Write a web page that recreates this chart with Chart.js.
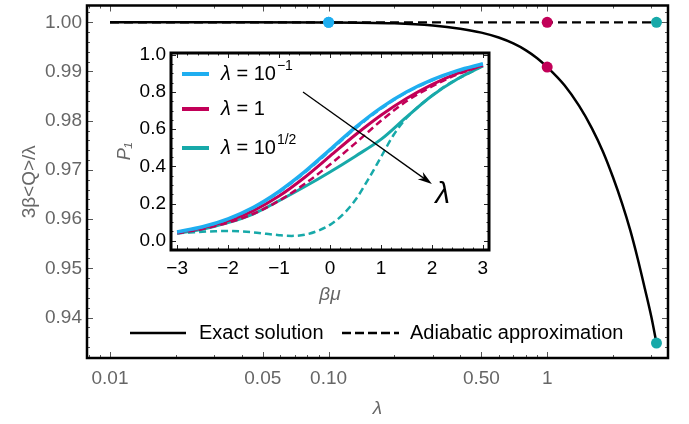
<!DOCTYPE html>
<html>
<head>
<meta charset="utf-8">
<script src="https://cdn.jsdelivr.net/npm/chart.js@4/dist/chart.umd.min.js"></script>
<style>
  html, body { margin: 0; padding: 0; background: #fff; }
  #wrap { position: relative; width: 689px; height: 424px; overflow: hidden; }
  #mainChart { position: absolute; left: 0; top: 0; }
  #insetChart { position: absolute; left: 100px; top: 40px; }
</style>
</head>
<body>
<div id="wrap">
  <canvas id="mainChart" width="689" height="424"></canvas>
  <canvas id="insetChart" width="400" height="270"></canvas>
</div>
<script>
// ---- main plot: 3β<Q>/λ against λ ----
const lambdaExact = [0.01, 0.03, 0.1, 0.2, 0.3, 0.4, 0.5, 0.6, 0.7, 0.8, 0.9, 1,
  1.2, 1.4, 1.6, 1.8, 2, 2.2, 2.4, 2.6, 2.8, 3, 3.162];
const qExact = [1.0, 1.0, 0.99998, 0.9998, 0.99935, 0.9987, 0.9979, 0.9969, 0.9957, 0.9943, 0.9927, 0.9909,
  0.9872, 0.9830, 0.9785, 0.9737, 0.9685, 0.9632, 0.9577, 0.9518, 0.9458, 0.9400, 0.9348];
const lambdaAdiabatic = [0.01, 3.162];
const qAdiabatic = [1.0, 1.0];

// marked λ values (same colours as the inset)
const markerLambda = [0.1, 1, 3.162];
const markerExact = [1.0, 0.9909, 0.9348];
const markerAdiabatic = [1.0, 1.0, 1.0];
const markerColors = ['#1FAEF0', '#C20058', '#17A9A9'];

const xMajorTicks = [0.01, 0.05, 0.1, 0.5, 1];
const xTickLabels = ['0.01', '0.05', '0.10', '0.50', '1'];
const yMajorTicks = [0.94, 0.95, 0.96, 0.97, 0.98, 0.99, 1.0];
const yTickLabels = ['0.94', '0.95', '0.96', '0.97', '0.98', '0.99', '1.00'];
const mainLegendLabels = ['Exact solution', 'Adiabatic approximation'];

// ---- inset: P1 against βμ ----
const betaMu = [-3, -2.5, -2, -1.5, -1, -0.5, 0, 0.5, 1, 1.5, 2, 2.5, 3];
const p1Blue = [0.047, 0.075, 0.118, 0.18, 0.265, 0.37, 0.49, 0.61, 0.715, 0.80, 0.865, 0.915, 0.952];
const p1BlueAdiabatic = [0.046, 0.074, 0.116, 0.177, 0.261, 0.365, 0.484, 0.604, 0.71, 0.797, 0.862, 0.913, 0.951];
const p1Magenta = [0.045, 0.07, 0.108, 0.162, 0.24, 0.34, 0.455, 0.57, 0.675, 0.765, 0.84, 0.90, 0.945];
const p1MagentaAdiabatic = [0.04, 0.063, 0.097, 0.145, 0.215, 0.305, 0.41, 0.525, 0.645, 0.75, 0.83, 0.895, 0.942];
const p1Teal = [0.04, 0.062, 0.097, 0.145, 0.215, 0.29, 0.37, 0.455, 0.545, 0.665, 0.78, 0.87, 0.94];
const betaMuFine = [-3, -2.75, -2.5, -2.25, -2, -1.75, -1.5, -1.25, -1, -0.75, -0.5, -0.25,
  0, 0.25, 0.5, 0.75, 1, 1.25, 1.5, 1.75, 2, 2.25, 2.5, 2.75, 3];
const p1TealAdiabatic = [0.040, 0.044, 0.048, 0.051, 0.052, 0.050, 0.045, 0.037, 0.030, 0.026, 0.032, 0.052,
  0.085, 0.14, 0.22, 0.33, 0.45, 0.57, 0.66, 0.725, 0.78, 0.83, 0.87, 0.905, 0.94];

const insetXTicks = [-3, -2, -1, 0, 1, 2, 3];
const insetXLabels = ['\u22123', '\u22122', '\u22121', '0', '1', '2', '3'];
const insetYTicks = [0, 0.2, 0.4, 0.6, 0.8, 1.0];
const insetYLabels = ['0.0', '0.2', '0.4', '0.6', '0.8', '1.0'];
const insetLegendBase = ['10', '1', '10'];
const insetLegendSup = ['\u22121', '', '1/2'];

const FONT = '"Liberation Sans", Arial, sans-serif';
const GRAY = '#666666';

function pairs(xs, ys) {
  return xs.map((x, i) => ({ x: x, y: ys[i] }));
}

function isNear(v, list) {
  return list.findIndex(m => Math.abs(v - m) < 1e-9 * Math.max(1, Math.abs(m)) + 1e-9);
}

// linear ticks with minor subdivisions
function linearTicks(min, max, step, majors) {
  const out = [];
  const start = Math.ceil(min / step - 1e-9);
  const end = Math.floor(max / step + 1e-9);
  for (let k = start; k <= end; k++) {
    const v = Math.round(k * step * 1e6) / 1e6;
    out.push({ value: v, isMajor: isNear(v, majors) >= 0 });
  }
  return out;
}

// log ticks at 1..9 times each decade
function logTicks(min, max, majors) {
  const out = [];
  [0.001, 0.01, 0.1, 1, 10].forEach(dec => {
    for (let m = 1; m <= 9; m++) {
      const v = Math.round(m * dec * 1e6) / 1e6;
      if (v >= min && v <= max) out.push({ value: v, isMajor: isNear(v, majors) >= 0 });
    }
  });
  return out;
}

// keep the plot area exactly where the layout padding puts it
function noEdgePadding(s) {
  s.paddingTop = 0; s.paddingBottom = 0;
  s.paddingLeft = 0; s.paddingRight = 0;
}

// frame with inward ticks on all four sides
const frameTicks = {
  id: 'frameTicks',
  beforeDraw(chart, args, opts) {
    if (!opts.fill) return;
    const a = chart.chartArea;
    chart.ctx.save();
    chart.ctx.fillStyle = opts.fill;
    chart.ctx.fillRect(a.left, a.top, a.width, a.height);
    chart.ctx.restore();
  },
  afterDatasetsDraw(chart, args, opts) {
    const ctx = chart.ctx;
    const a = chart.chartArea;
    const xs = chart.scales.x, ys = chart.scales.y;
    ctx.save();
    ctx.strokeStyle = opts.tickColor;
    ctx.lineWidth = 1;
    ctx.beginPath();
    xs.ticks.forEach(t => {
      const px = Math.round(xs.getPixelForValue(t.value)) + 0.5;
      const len = t.isMajor ? opts.majorLen : opts.minorLen;
      ctx.moveTo(px, a.bottom); ctx.lineTo(px, a.bottom - len);
      ctx.moveTo(px, a.top); ctx.lineTo(px, a.top + len);
    });
    ys.ticks.forEach(t => {
      const py = Math.round(ys.getPixelForValue(t.value)) + 0.5;
      const len = t.isMajor ? opts.majorLen : opts.minorLen;
      ctx.moveTo(a.left, py); ctx.lineTo(a.left + len, py);
      ctx.moveTo(a.right, py); ctx.lineTo(a.right - len, py);
    });
    ctx.stroke();
    ctx.strokeStyle = '#000';
    ctx.lineWidth = opts.frameWidth;
    ctx.strokeRect(a.left, a.top, a.width, a.height);
    ctx.restore();
  }
};

// legend inside the main frame
const mainLegend = {
  id: 'mainLegend',
  afterDraw(chart) {
    const ctx = chart.ctx;
    const y = 333;
    ctx.save();
    ctx.strokeStyle = '#000';
    ctx.lineWidth = 2.5;
    ctx.beginPath(); ctx.moveTo(130, y); ctx.lineTo(186, y); ctx.stroke();
    ctx.setLineDash([9, 4]);
    ctx.beginPath(); ctx.moveTo(342, y); ctx.lineTo(399, y); ctx.stroke();
    ctx.setLineDash([]);
    ctx.fillStyle = '#000';
    ctx.font = '20px ' + FONT;
    ctx.textBaseline = 'middle';
    ctx.fillText(mainLegendLabels[0], 199, y);
    ctx.fillText(mainLegendLabels[1], 410, y);
    ctx.restore();
  }
};

// legend and λ arrow inside the inset
const insetDecor = {
  id: 'insetDecor',
  afterDraw(chart) {
    const ctx = chart.ctx;
    const a = chart.chartArea;
    const xs = chart.scales.x, ys = chart.scales.y;
    const colors = markerColors;
    const rows = [a.top + 21, a.top + 56, a.top + 95];
    ctx.save();
    ctx.textBaseline = 'middle';
    rows.forEach((y, i) => {
      ctx.strokeStyle = colors[i];
      ctx.lineWidth = 4;
      ctx.beginPath(); ctx.moveTo(a.left + 11, y); ctx.lineTo(a.left + 38, y); ctx.stroke();
      let x = a.left + 50;
      ctx.fillStyle = '#000';
      ctx.font = 'italic 20px ' + FONT;
      ctx.fillText('\u03bb', x, y);
      x += ctx.measureText('\u03bb').width;
      ctx.font = '20px ' + FONT;
      const txt = ' = ' + insetLegendBase[i];
      ctx.fillText(txt, x, y);
      x += ctx.measureText(txt).width;
      if (insetLegendSup[i]) {
        ctx.font = '14px ' + FONT;
        ctx.fillText(insetLegendSup[i], x + 1, y - 8);
      }
    });
    // arrow showing increasing λ
    const x0 = xs.getPixelForValue(-0.53), y0 = ys.getPixelForValue(0.80);
    const x1 = xs.getPixelForValue(2.0), y1 = ys.getPixelForValue(0.305);
    const ang = Math.atan2(y1 - y0, x1 - x0);
    ctx.strokeStyle = '#000';
    ctx.fillStyle = '#000';
    ctx.lineWidth = 1.3;
    ctx.beginPath(); ctx.moveTo(x0, y0); ctx.lineTo(x1 - 8 * Math.cos(ang), y1 - 8 * Math.sin(ang)); ctx.stroke();
    ctx.beginPath();
    ctx.moveTo(x1, y1);
    ctx.lineTo(x1 - 15 * Math.cos(ang - 0.3), y1 - 15 * Math.sin(ang - 0.3));
    ctx.lineTo(x1 - 10 * Math.cos(ang), y1 - 10 * Math.sin(ang));
    ctx.lineTo(x1 - 15 * Math.cos(ang + 0.3), y1 - 15 * Math.sin(ang + 0.3));
    ctx.closePath();
    ctx.fill();
    ctx.font = 'italic 30px ' + FONT;
    ctx.textAlign = 'center';
    ctx.fillText('\u03bb', xs.getPixelForValue(2.21), ys.getPixelForValue(0.25));
    ctx.restore();
  }
};

function lineSet(data, color, width, dash) {
  return {
    data: data,
    borderColor: color,
    borderWidth: width,
    borderDash: dash || [],
    pointRadius: 0,
    fill: false,
    cubicInterpolationMode: 'monotone'
  };
}

function dotSet(data, colors) {
  return {
    type: 'scatter',
    data: data,
    pointRadius: 5.5,
    pointBackgroundColor: colors,
    pointBorderWidth: 0,
    showLine: false
  };
}

const X_MIN = 0.00785, X_MAX = 3.57;
const Y_MIN = 0.93177, Y_MAX = 1.00341;

new Chart(document.getElementById('mainChart'), {
  type: 'line',
  data: {
    datasets: [
      dotSet(pairs(markerLambda, markerExact), markerColors),
      dotSet(pairs(markerLambda, markerAdiabatic), markerColors),
      lineSet(pairs(lambdaExact, qExact), '#000', 2.5),
      lineSet(pairs(lambdaAdiabatic, qAdiabatic), '#000', 2.2, [9, 5])
    ]
  },
  options: {
    responsive: false,
    animation: false,
    events: [],
    layout: { padding: { left: 0, right: 21, top: 1, bottom: 0 } },
    plugins: {
      legend: { display: false },
      tooltip: { enabled: false },
      frameTicks: { tickColor: '#555', majorLen: 6, minorLen: 3, frameWidth: 2.5 }
    },
    scales: {
      x: {
        type: 'logarithmic',
        min: X_MIN, max: X_MAX,
        grid: { display: false, drawTicks: false },
        border: { display: false },
        afterBuildTicks: s => { s.ticks = logTicks(X_MIN, X_MAX, xMajorTicks); },
        afterFit: s => { s.height = 66; noEdgePadding(s); },
        ticks: {
          autoSkip: false, maxRotation: 0, padding: 9,
          color: GRAY, font: { family: FONT, size: 19 },
          callback: v => { const i = isNear(v, xMajorTicks); return i >= 0 ? xTickLabels[i] : ''; }
        },
        title: {
          display: true, text: '\u03bb', color: GRAY,
          font: { family: FONT, size: 19, style: 'italic' },
          padding: { top: 0, bottom: 4 }
        }
      },
      y: {
        type: 'linear',
        min: Y_MIN, max: Y_MAX,
        grid: { display: false, drawTicks: false },
        border: { display: false },
        afterBuildTicks: s => { s.ticks = linearTicks(Y_MIN, Y_MAX, 0.002, yMajorTicks); },
        afterFit: s => { s.width = 87; noEdgePadding(s); },
        ticks: {
          autoSkip: false, padding: 5,
          color: GRAY, font: { family: FONT, size: 19 },
          callback: v => { const i = isNear(v, yMajorTicks); return i >= 0 ? yTickLabels[i] : ''; }
        },
        title: {
          display: true, text: '3\u03b2<Q>/\u03bb', color: GRAY,
          font: { family: FONT, size: 19 },
          padding: { top: 18, bottom: 0 }
        }
      }
    }
  },
  plugins: [frameTicks, mainLegend]
});

new Chart(document.getElementById('insetChart'), {
  type: 'line',
  data: {
    datasets: [
      lineSet(pairs(betaMu, p1BlueAdiabatic), markerColors[0], 2.5, [7, 4]),
      lineSet(pairs(betaMu, p1Blue), markerColors[0], 3.5),
      lineSet(pairs(betaMu, p1MagentaAdiabatic), markerColors[1], 2.5, [7, 4]),
      lineSet(pairs(betaMu, p1Magenta), markerColors[1], 3),
      lineSet(pairs(betaMuFine, p1TealAdiabatic), markerColors[2], 2.5, [7, 4]),
      lineSet(pairs(betaMu, p1Teal), markerColors[2], 3)
    ]
  },
  options: {
    responsive: false,
    animation: false,
    events: [],
    layout: { padding: { left: 0, right: 11, top: 13, bottom: 0 } },
    plugins: {
      legend: { display: false },
      tooltip: { enabled: false },
      frameTicks: { fill: '#fff', tickColor: '#222', majorLen: 5, minorLen: 2.5, frameWidth: 3 }
    },
    scales: {
      x: {
        type: 'linear',
        min: -3.12, max: 3.12,
        grid: { display: false, drawTicks: false },
        border: { display: false },
        afterBuildTicks: s => { s.ticks = linearTicks(-3.12, 3.12, 0.2, insetXTicks); },
        afterFit: s => { s.height = 60; noEdgePadding(s); },
        ticks: {
          autoSkip: false, maxRotation: 0, padding: 7,
          color: '#000', font: { family: FONT, size: 19 },
          callback: v => { const i = isNear(v, insetXTicks); return i >= 0 ? insetXLabels[i] : ''; }
        },
        title: {
          display: true, text: '\u03b2\u03bc', color: GRAY,
          font: { family: FONT, size: 19, style: 'italic' },
          padding: { top: 0, bottom: 4 }
        }
      },
      y: {
        type: 'linear',
        min: -0.05, max: 1.01,
        grid: { display: false, drawTicks: false },
        border: { display: false },
        afterBuildTicks: s => { s.ticks = linearTicks(-0.05, 1.01, 0.05, insetYTicks); },
        afterFit: s => { s.width = 71; noEdgePadding(s); },
        ticks: {
          autoSkip: false, padding: 5,
          color: '#000', font: { family: FONT, size: 19 },
          callback: v => { const i = isNear(v, insetYTicks); return i >= 0 ? insetYLabels[i] : ''; }
        },
        title: {
          display: true, text: 'P\u2081', color: GRAY,
          font: { family: FONT, size: 18, style: 'italic' },
          padding: { top: 14, bottom: 0 }
        }
      }
    }
  },
  plugins: [frameTicks, insetDecor]
});
</script>
</body>
</html>
